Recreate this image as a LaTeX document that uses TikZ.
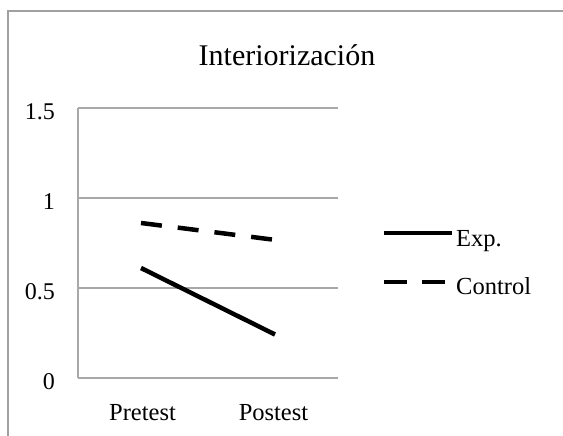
\documentclass[tikz,border=0pt]{standalone}
\usepackage{fontspec}
\setmainfont{Liberation Serif}
\usetikzlibrary{positioning}

\definecolor{framegray}{HTML}{A0A0A0}
\definecolor{gridgray}{HTML}{A8A8A8}
\tikzset{
  grid line/.style={gridgray, line width=1.5pt},
  series/.style={black, line width=4.5pt},
  series dashed/.style={series, dash pattern=on 21pt off 16pt},
  tick label/.style={font=\fontsize{24}{28}\selectfont, inner sep=0pt},
  small text/.style={font=\fontsize{24.5}{28}\selectfont, inner sep=0pt}
}

\begin{document}
\begin{tikzpicture}[x=1pt, y=-1pt]
\useasboundingbox (0,0) rectangle (563,436);
% outer frame (cut off at right and bottom)
\draw[framegray, line width=2pt] (563,11) -- (8,11) -- (8,436);
% plot area
\coordinate (O)  at (78,378);
\coordinate (TL) at (78,108);
\foreach \v/\y in {0/378, 0.5/288, 1/198, 1.5/108} {
  \draw[grid line] (78,\y) -- (338,\y);
  \node[tick label, anchor=east] (t\y) at (55,\y+4) {\v};
}
\draw[grid line] (O) -- (TL);
\node[font=\fontsize{30}{36}\selectfont, anchor=base, inner sep=0pt] (title) at (287,66) {Interiorización};
\node[small text, anchor=base] (pre)  at (142.5,420) {Pretest};
\node[small text, anchor=base] (post) at (273.5,420) {Postest};
% data
\coordinate (E1) at (141,268);
\coordinate (E2) at (275,334.5);
\coordinate (C1) at (141,223);
\coordinate (C2) at (276,240);
\draw[series] (E1) -- (E2);
\draw[series dashed] (C1) -- (C2);
% legend
\coordinate (L1) at (384,233);
\coordinate (L2) at (452,233);
\coordinate (L3) at (384,282);
\coordinate (L4) at (452,282);
\draw[series] (L1) -- (L2);
\draw[series, dash pattern=on 23pt off 15pt] (L3) -- (L4);
\node[small text, anchor=base west] (exp)  at (456,246.5) {Exp.};
\node[small text, anchor=base west] (ctrl) at (456,294) {Control};
\end{tikzpicture}
\end{document}
